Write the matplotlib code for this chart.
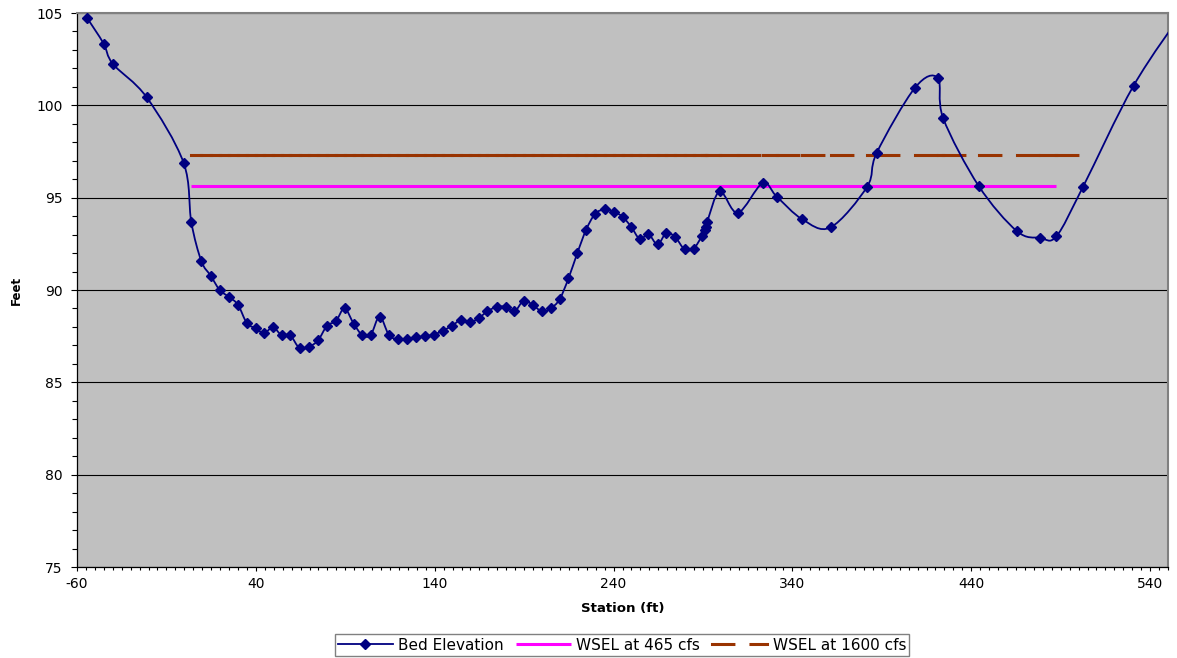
"""
Cross section plot: bed elevation with two water surface elevations.
"""

import matplotlib
matplotlib.use("Agg")
import matplotlib.pyplot as plt
from matplotlib.path import Path
from matplotlib.patches import PathPatch
from matplotlib.collections import LineCollection
from matplotlib.lines import Line2D
from matplotlib.ticker import MultipleLocator
import numpy as np

plt.rcParams["font.family"] = ["DejaVu Sans"]
plt.rcParams["lines.scale_dashes"] = False
plt.rcParams["axes.unicode_minus"] = False

#==============
# Data
#==============

bed_station = [
    -54.2, -45.1, -39.9, -21.0, -0.4, 3.9, 9.5, 14.7, 19.8, 25.0,
    30.0, 35.0, 39.9, 44.5, 49.6, 54.4, 59.2, 64.5, 69.9, 74.9,
    79.8, 84.8, 89.6, 94.8, 99.5, 104.2, 109.2, 114.4, 119.3, 124.3,
    129.4, 134.4, 139.4, 144.5, 149.5, 154.7, 159.7, 164.5, 169.4, 174.6,
    179.6, 184.6, 189.7, 194.7, 200.0, 204.8, 209.8, 214.8, 219.7, 224.7,
    229.7, 235.0, 240.0, 245.0, 249.8, 254.7, 259.5, 264.6, 269.6, 274.6,
    279.7, 284.7, 289.4, 290.9, 291.9, 292.4, 299.4, 309.5, 323.3, 331.3,
    345.5, 361.3, 381.8, 387.2, 408.6, 421.3, 424.3, 444.1, 465.5, 478.5,
    487.6, 502.5, 530.8, 560.0,
]
bed_elev = [
    104.71, 103.34, 102.24, 100.43, 96.89, 93.68, 91.57, 90.78, 90.00, 89.62,
    89.20, 88.20, 87.93, 87.66, 87.98, 87.55, 87.55, 86.84, 86.93, 87.29,
    88.07, 88.32, 89.00, 88.16, 87.56, 87.56, 88.56, 87.56, 87.33, 87.37,
    87.43, 87.50, 87.58, 87.80, 88.05, 88.38, 88.25, 88.47, 88.84, 89.09,
    89.09, 88.84, 89.42, 89.20, 88.84, 89.00, 89.49, 90.63, 91.99, 93.27,
    94.12, 94.37, 94.24, 93.97, 93.43, 92.76, 93.02, 92.47, 93.10, 92.85,
    92.20, 92.24, 92.92, 93.25, 93.43, 93.70, 95.34, 94.18, 95.78, 95.05,
    93.83, 93.39, 95.60, 97.44, 100.96, 101.48, 99.30, 95.64, 93.19, 92.83,
    92.91, 95.59, 101.07, 105.30,
]

# water surface elevations, defined at the bed stations inside each reach
wsel_465 = 95.65
wsel_465_reach = (3.9, 487.6)
wsel_1600 = 97.29
wsel_1600_reach = (3.9, 502.5)

NAVY = "#000080"
PINK = "#FF00FF"
BROWN = "#993300"
LW_WSEL = 2.2
# long dash (on, off) in points; projecting caps add LW_WSEL to each dash
DASH = (0, (17.6 - LW_WSEL, 10.1 + LW_WSEL))


def smooth_path(x, y) -> Path:
    """Excel-like smoothed line: cubic Bezier through every point."""
    p = np.column_stack([x, y])
    n = len(p)
    verts = [p[0]]
    codes = [Path.MOVETO]
    for i in range(n - 1):
        p0 = p[i - 1] if i > 0 else p[i]
        p3 = p[i + 2] if i + 2 < n else p[i + 1]
        c1 = p[i] + (p[i + 1] - p0) / 6.0
        c2 = p[i + 1] - (p3 - p[i]) / 6.0
        verts += [c1, c2, p[i + 1]]
        codes += [Path.CURVE4] * 3
    return Path(verts, codes)


fig = plt.figure(figsize=(11.77, 6.58), dpi=100)
ax = fig.add_axes([77 / 1177, 1 - 567 / 658, 1091 / 1177, 554 / 658])
ax.set_facecolor("#C0C0C0")

st = np.array(bed_station)

# WSEL 465 cfs (solid)
m465 = (st >= wsel_465_reach[0]) & (st <= wsel_465_reach[1])
ax.plot(st[m465], np.full(m465.sum(), wsel_465), color=PINK, lw=LW_WSEL,
        solid_capstyle="butt", zorder=3)

# WSEL 1600 cfs: dash pattern restarts at every point, as Excel does
m1600 = (st >= wsel_1600_reach[0]) & (st <= wsel_1600_reach[1])
xs = st[m1600]
segs = [[(xs[i], wsel_1600), (xs[i + 1], wsel_1600)] for i in range(len(xs) - 1)]
ax.add_collection(LineCollection(segs, colors=BROWN, linewidths=LW_WSEL,
                                 linestyles=[DASH], capstyle="projecting",
                                 zorder=4))

# bed elevation, smoothed line with diamond markers
ax.add_patch(PathPatch(smooth_path(bed_station, bed_elev), facecolor="none",
                       edgecolor=NAVY, lw=1.3, zorder=5))
ax.plot(bed_station, bed_elev, ls="none", marker="D", ms=4.6,
        color=NAVY, zorder=6)

ax.set_xlim(-60, 550)
ax.set_ylim(75, 105)
ax.xaxis.set_minor_locator(MultipleLocator(5))
ax.yaxis.set_major_locator(MultipleLocator(5))
ax.yaxis.set_minor_locator(MultipleLocator(1))
ax.set_xticks(np.arange(-60, 541, 100))

ax.grid(axis="y", which="major", color="black", lw=0.8)
ax.set_axisbelow(True)

ax.tick_params(axis="x", which="major", direction="out", length=3, width=0.8,
               labelsize=10, pad=4)
ax.tick_params(axis="x", which="minor", direction="out", length=2, width=0.8)
ax.tick_params(axis="y", which="major", direction="out", length=4.3, width=0.8,
               labelsize=10, pad=6)
ax.tick_params(axis="y", which="minor", direction="out", length=3.6, width=0.8)

for side in ("left", "bottom"):
    ax.spines[side].set_color("black")
    ax.spines[side].set_linewidth(0.9)
for side in ("top", "right"):
    ax.spines[side].set_color("#808080")
    ax.spines[side].set_linewidth(1.5)

ax.set_xlabel("Station (ft)", fontsize=9.6, fontweight="bold")
ax.xaxis.set_label_coords(0.5, -0.064)
ax.set_ylabel("Feet", fontsize=8.5, fontweight="bold")
ax.yaxis.set_label_coords(-0.05, 0.5)

handles = [
    Line2D([], [], color=NAVY, lw=1.3, marker="D", ms=4.6),
    Line2D([], [], color=PINK, lw=LW_WSEL, solid_capstyle="butt"),
    Line2D([], [], color=BROWN, lw=LW_WSEL, ls=DASH,
           dash_capstyle="projecting"),
]
labels = ["Bed Elevation", "WSEL at 465 cfs", "WSEL at 1600 cfs"]
leg = ax.legend(handles, labels, ncol=3, loc="center",
                bbox_to_anchor=(622 / 1177, 1 - 645 / 658),
                bbox_transform=fig.transFigure, fontsize=11,
                handlelength=3.6, handletextpad=0.35, columnspacing=0.8,
                borderpad=0.2, frameon=True, fancybox=False,
                edgecolor="#808080", framealpha=1)
leg.get_frame().set_linewidth(1.0)

fig.savefig("out.png", dpi=100)
